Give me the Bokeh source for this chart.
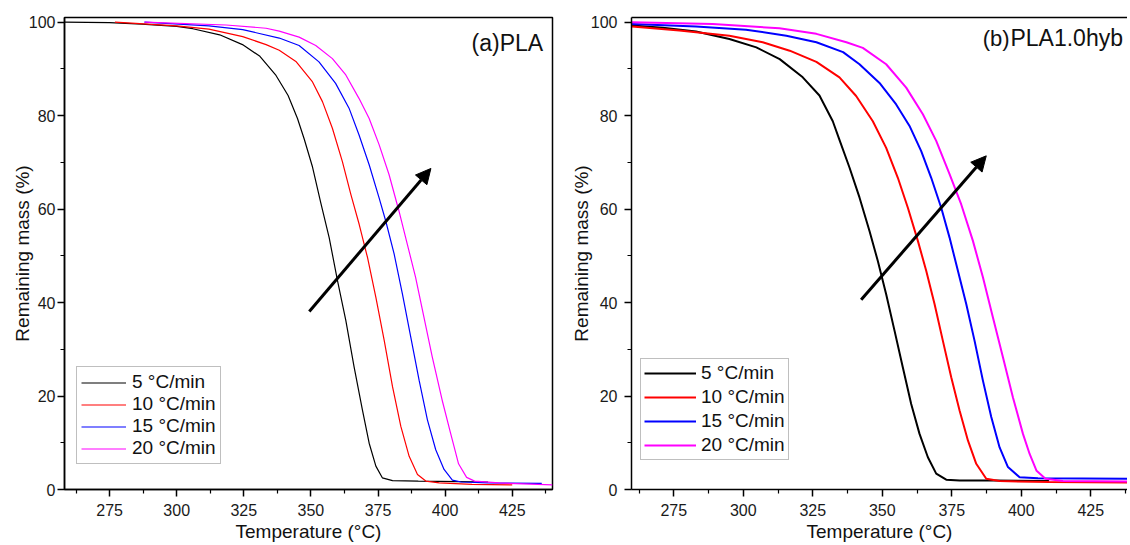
from bokeh.plotting import figure
from bokeh.layouts import row
from bokeh.models import (FixedTicker, Legend, LegendItem, Arrow, NormalHead,
                          Label, LinearAxis)
from bokeh.embed import file_html
from bokeh.resources import INLINE

# ---------------- data ----------------
rates = ["5 °C/min", "10 °C/min", "15 °C/min", "20 °C/min"]
colors = ["#000000", "#ff0000", "#0000ff", "#ff00ff"]

x_ticks = [275, 300, 325, 350, 375, 400, 425]
x_minor = [262.5, 287.5, 312.5, 337.5, 362.5, 387.5, 412.5, 437.5]
y_ticks = [0, 20, 40, 60, 80, 100]
y_minor = [10, 30, 50, 70, 90]

# (a) PLA
a_T5 = [258, 275, 287, 300, 306, 316, 324.5, 331, 337, 341.5, 345, 347.5, 350.6, 353.7, 356.8,
        359.9, 363.0, 366.1, 369.2, 371.7, 374.2, 376.6, 380.4, 390, 405, 416]
a_m5 = [100, 99.9, 99.6, 99.1, 98.6, 97.3, 95.2, 92.7, 88.6, 84.3, 79.4, 75.0, 69.0, 61.3, 53.9,
        44.7, 36.2, 26.2, 17.0, 9.9, 5.0, 2.5, 1.9, 1.8, 1.7, 1.6]
a_T10 = [277, 300, 312, 324.6, 333.3, 338.2, 344.4, 350.6, 354.3, 358.0, 361.7, 364.9, 368.0,
         371.1, 374.2, 377.3, 380.4, 383.5, 386.6, 389.7, 392.8, 397.8, 410, 425]
a_m10 = [100, 99.2, 98.5, 96.9, 95.2, 94.0, 91.6, 87.2, 83.0, 77.3, 70.2, 63.1, 56.7,
         49.6, 41.1, 31.9, 22.0, 13.5, 7.1, 3.2, 1.8, 1.4, 1.1, 1.0]
a_T15 = [288, 312, 324.6, 338.2, 345.6, 353.0, 359.2, 364.2, 367.9, 371.7, 375.4, 377.9, 381.0,
         384.1, 387.2, 390.3, 393.4, 396.5, 399.6, 402.7, 406, 416, 436]
a_m15 = [100, 99.2, 98.4, 96.6, 95.0, 91.5, 86.9, 81.6, 75.9, 69.5, 62.4, 57.4, 50.4,
         41.8, 32.6, 23.4, 14.9, 8.5, 4.3, 2.0, 1.6, 1.4, 1.3]
a_T20 = [288, 318.4, 333.3, 338.2, 345.6, 351.8, 358.0, 363.0, 367.9, 371.7, 375.4, 379.1, 382.8,
         385.9, 389.0, 392.1, 395.2, 398.9, 402.0, 405.0, 408.0, 411.0, 420, 440]
a_m20 = [100, 99.4, 98.7, 98.1, 96.8, 95.0, 92.2, 88.7, 83.7, 79.4, 73.8, 67.4, 59.6,
         52.5, 45.4, 36.9, 28.4, 19.1, 12.1, 5.5, 2.6, 1.8, 1.4, 1.0]

# (b) PLA1.0hyb
b_T5 = [260, 271, 283, 295, 304.7, 313.1, 321.4, 327.4, 332.2, 334.6, 338.2, 341.8, 345.4, 348.4,
        351.4, 354.4, 357.4, 360.4, 363.4, 366.4, 369.4, 373.0, 377.8, 390, 410]
b_m5 = [99.3, 98.8, 98.0, 96.4, 94.6, 92.1, 88.2, 84.3, 78.8, 74.8, 68.9, 62.5, 55.3, 48.9,
        41.8, 34.0, 26.1, 18.3, 11.9, 6.9, 3.4, 2.1, 1.9, 1.9, 1.8]
b_T10 = [260, 277, 295, 307, 316.7, 326.3, 334.6, 340.6, 346.6, 351.4, 355.6, 359.2, 362.8, 365.8,
         368.8, 371.8, 374.8, 377.8, 380.8, 383.8, 387.4, 392.2, 410, 439]
b_m10 = [99.1, 98.2, 97.1, 95.7, 93.9, 91.5, 88.2, 84.2, 78.8, 73.1, 66.7, 60.3, 53.2, 46.8,
         39.7, 31.8, 24.0, 16.9, 10.5, 5.5, 2.3, 1.8, 1.6, 1.5]
b_T15 = [260, 283, 301, 315.5, 326.3, 335.9, 341.8, 349.0, 355.0, 359.8, 364.0, 367.6, 371.2,
         374.2, 377.2, 380.2, 383.2, 386.2, 389.2, 392.2, 395.2, 399.4, 406, 439]
b_m15 = [99.6, 99.1, 98.4, 97.1, 95.7, 93.6, 91.0, 87.0, 82.4, 77.8, 72.4, 66.7, 60.3,
         53.9, 46.8, 39.7, 31.8, 23.3, 15.5, 9.0, 4.8, 2.6, 2.4, 2.3]
b_T20 = [260, 289, 313, 326.3, 337.1, 343.0, 351.4, 358.6, 364.6, 369.4, 374.2, 378.4, 382.6,
         386.2, 389.8, 393.4, 397.0, 400.6, 403.0, 405.5, 408.7, 415, 439]
b_m20 = [100, 99.6, 98.7, 97.5, 95.7, 94.5, 91.0, 86.0, 80.3, 74.6, 67.5, 61.0, 53.2,
         45.4, 36.8, 28.3, 19.7, 11.9, 7.6, 4.0, 2.3, 1.8, 1.7]

# arrows: [x_start, y_start, x_end, y_end]
arrow_a = [349.4, 38.1, 394.7, 68.7]
arrow_b = [342.4, 40.6, 387.4, 71.4]

FONT = "Liberation Sans"


def style_axes(p, ylab_standoff, ylab_axis_standoff):
    p.xaxis.ticker = FixedTicker(ticks=x_ticks, minor_ticks=x_minor)
    p.yaxis.ticker = FixedTicker(ticks=y_ticks, minor_ticks=y_minor)
    for ax in (p.xaxis[0], p.yaxis[0]):
        ax.axis_line_width = 1.5
        ax.axis_line_color = "black"
        ax.major_tick_in = 0
        ax.major_tick_out = 7
        ax.minor_tick_in = 0
        ax.minor_tick_out = 4
        ax.major_tick_line_width = 1.5
        ax.minor_tick_line_width = 1.2
        ax.major_tick_line_color = "black"
        ax.minor_tick_line_color = "black"
        ax.major_label_text_font = FONT
        ax.major_label_text_font_size = "16px"
        ax.major_label_text_color = "#1a1a1a"
        ax.axis_label_text_font = FONT
        ax.axis_label_text_font_size = "19px"
        ax.axis_label_text_font_style = "normal"
        ax.axis_label_text_color = "#111111"
    p.xaxis.axis_label = "Temperature (°C)"
    p.yaxis.axis_label = "Remaining mass (%)"
    p.xaxis.major_label_standoff = 7
    p.xaxis.axis_label_standoff = 2
    p.yaxis.major_label_standoff = ylab_standoff
    p.yaxis.axis_label_standoff = ylab_axis_standoff
    p.grid.visible = False


def make_legend(p, renderers, loc, padding, label_h, spacing, glyph_w, standoff):
    items = [LegendItem(label=lab, renderers=[r]) for lab, r in zip(rates, renderers)]
    leg = Legend(items=items, location=loc, margin=0, padding=padding,
                 label_height=label_h, glyph_height=label_h, spacing=spacing,
                 glyph_width=glyph_w, label_standoff=standoff,
                 label_text_font=FONT, label_text_font_size="19px",
                 label_text_color="#111111",
                 border_line_color="#808080", border_line_width=1,
                 background_fill_color="white", background_fill_alpha=1)
    p.add_layout(leg, "center")


# ---------------- panel (a) ----------------
p1 = figure(frame_width=488, frame_height=472, x_range=(258.2, 440), y_range=(0, 101),
            output_backend="svg", toolbar_location=None,
            min_border_left=64, min_border_right=15, min_border_top=17, min_border_bottom=53)
p1.outline_line_color = "black"
p1.outline_line_width = 1.5
style_axes(p1, 2, -7)

r_a = []
for T, m, c in zip([a_T5, a_T10, a_T15, a_T20], [a_m5, a_m10, a_m15, a_m20], colors):
    r_a.append(p1.line(T, m, line_color=c, line_width=1.2))
make_legend(p1, r_a, (12, 25), 4, 21, 0, 45, 6)

p1.add_layout(Arrow(end=NormalHead(size=15, fill_color="black", line_color="black"),
                    x_start=arrow_a[0], y_start=arrow_a[1], x_end=arrow_a[2], y_end=arrow_a[3],
                    line_width=3, line_color="black"))
p1.add_layout(Label(x=436.5, y=95.5, text="(a)PLA", text_align="right", text_baseline="middle",
                    text_font=FONT, text_font_size="23px", text_color="#111111"))

# ---------------- panel (b) ----------------
p2 = figure(frame_width=496, frame_height=472, x_range=(259.8, 438.2), y_range=(0, 101),
            output_backend="svg", toolbar_location=None,
            min_border_left=59, min_border_right=0, min_border_top=17, min_border_bottom=53)
p2.outline_line_color = None
style_axes(p2, 7, -4)
top_axis = LinearAxis(ticker=FixedTicker(ticks=[]), major_label_text_font_size="0px",
                      major_tick_line_color=None, minor_tick_line_color=None,
                      axis_line_width=1.5, axis_line_color="black")
p2.add_layout(top_axis, "above")

r_b = []
for T, m, c in zip([b_T5, b_T10, b_T15, b_T20], [b_m5, b_m10, b_m15, b_m20], colors):
    r_b.append(p2.line(T, m, line_color=c, line_width=2))
make_legend(p2, r_b, (9, 29), 3, 22, 2, 52, 5)

p2.add_layout(Arrow(end=NormalHead(size=15, fill_color="black", line_color="black"),
                    x_start=arrow_b[0], y_start=arrow_b[1], x_end=arrow_b[2], y_end=arrow_b[3],
                    line_width=3, line_color="black"))
p2.add_layout(Label(x=395.8, y=96.6, text="(b)", text_align="right", text_baseline="middle",
                    text_font=FONT, text_font_size="22px", text_color="#111111"))
p2.add_layout(Label(x=396.1, y=96.6, text="PLA1.0hyb", text_align="left", text_baseline="middle",
                    text_font=FONT, text_font_size="23px", text_color="#111111"))

layout = row(p1, p2)
open("out.html", "w").write(file_html(layout, INLINE))
